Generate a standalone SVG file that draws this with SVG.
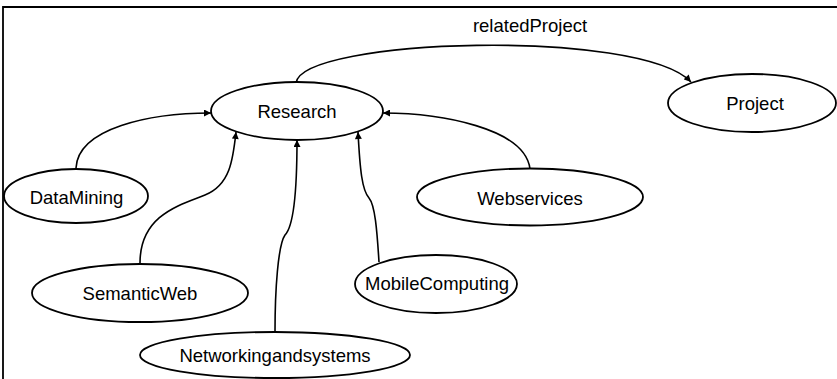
<svg xmlns="http://www.w3.org/2000/svg" width="837" height="379" viewBox="0 0 837 379">
<defs>
<marker id="arr" viewBox="0 0 10 10" refX="10" refY="5" markerWidth="8" markerHeight="7" markerUnits="userSpaceOnUse" orient="auto">
<path d="M0,0 L10,5 L0,10 z" fill="#000"/>
</marker>
<style>
.node ellipse{fill:#fff;stroke:#000;stroke-width:1.8}
.node text,.lbl{font-family:"Liberation Sans",Arial,sans-serif;font-size:18.5px;fill:#000;text-anchor:middle}
.edge{fill:none;stroke:#000;stroke-width:1.6;marker-end:url(#arr)}
.frame{fill:none;stroke:#000;stroke-width:1.8}
</style>
</defs>
<rect width="837" height="379" fill="#fff"/>
<path class="frame" d="M3,379 L3,7 L837,7"/>
<g id="connectors">
<path class="edge" d="M296,83 C302,38 640,28 691,82"/>
<path class="edge" d="M76,168 C78,128 150,113 211,113"/>
<path class="edge" d="M530,169 C525,128 440,113 383,113"/>
<path class="edge" d="M140,263 C140,215 180,205 205,195 C230,185 233,160 236,132"/>
<path class="edge" d="M275,332 C275,290 278,245 285,235 C295,225 297,180 297,140"/>
<path class="edge" d="M379,262 C377,230 375,205 369,198 C362,190 360,170 358,132"/>
<text class="lbl" x="530" y="32">relatedProject</text>
</g>
<g id="Research" class="node"><ellipse cx="297" cy="111" rx="86" ry="29"/><text x="297" y="118">Research</text></g>
<g id="Project" class="node"><ellipse cx="752" cy="103" rx="84" ry="29"/><text x="755" y="110">Project</text></g>
<g id="DataMining" class="node"><ellipse cx="76" cy="196" rx="72" ry="27"/><text x="76.5" y="204">DataMining</text></g>
<g id="Webservices" class="node"><ellipse cx="530" cy="197" rx="113" ry="28.5"/><text x="530" y="205">Webservices</text></g>
<g id="SemanticWeb" class="node"><ellipse cx="140" cy="293" rx="108" ry="29"/><text x="140" y="300">SemanticWeb</text></g>
<g id="MobileComputing" class="node"><ellipse cx="436" cy="284" rx="81" ry="29"/><text x="437" y="290">MobileComputing</text></g>
<g id="Networkingandsystems" class="node"><ellipse cx="275" cy="355" rx="135" ry="23"/><text x="275" y="362">Networkingandsystems</text></g>
</svg>
